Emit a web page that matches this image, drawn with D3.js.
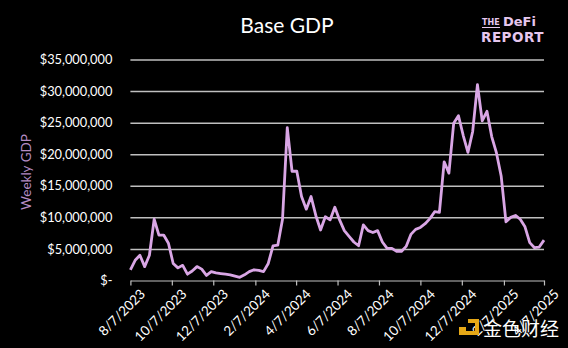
<!DOCTYPE html>
<meta charset="utf-8">
<style>
  html, body { margin: 0; padding: 0; background: #000; overflow: hidden; }
  body { font-family: Lato, "Open Sans", sans-serif; }
  .axis text { fill: #fff; font: normal 12px Lato, sans-serif; }
  .axis path, .axis line { stroke: #bfbfbf; stroke-width: 1.2px; fill: none; }
  .grid line { stroke: #bfbfbf; stroke-width: 1.5px; }
  .grid path { display: none; }
</style>
<svg width="568" height="348"></svg>
<script src="https://cdn.jsdelivr.net/npm/d3@7"></script>
<script>

// weekly data, starting 8/7/2023
var startDate = "2023-08-07";
var weeklyGdpMillions = [
  1.7, 3.2, 4.0, 2.2, 4.0, 9.7, 7.2, 7.2, 5.9, 2.7,
  2.0, 2.4, 1.0, 1.5, 2.2, 1.8, 0.8, 1.4, 1.2, 1.1,
  1.0, 0.9, 0.7, 0.5, 0.9, 1.4, 1.7, 1.6, 1.4, 2.7,
  5.5, 5.6, 9.7, 24.2, 17.3, 17.3, 13.3, 11.3, 13.3, 10.3,
  8.0, 10.1, 9.6, 11.6, 9.6, 7.9, 7.0, 6.1, 5.5, 8.8,
  7.9, 7.6, 7.9, 6.1, 5.1, 5.1, 4.6, 4.6, 5.4, 7.3,
  8.1, 8.4, 9.0, 9.8, 10.9, 10.8, 18.8, 17.0, 24.9, 26.1,
  23.0, 20.3, 23.6, 31.0, 25.3, 26.8, 22.8, 20.2, 16.5, 9.3,
  10.0, 10.3, 9.7, 8.5, 6.0, 5.2, 5.3, 6.4
];
var yTicks = [0, 5e6, 10e6, 15e6, 20e6, 25e6, 30e6, 35e6];
var xTickLabels = ["8/7/2023", "10/7/2023", "12/7/2023", "2/7/2024", "4/7/2024", "6/7/2024",
                   "8/7/2024", "10/7/2024", "12/7/2024", "2/7/2025", "4/7/2025"];

var margin = {top: 59.5, right: 24, bottom: 67.5, left: 130.4},
    width = 568 - margin.left - margin.right,
    height = 348 - margin.top - margin.bottom;

var parse = d3.timeParse("%m/%d/%Y");
var t0 = d3.timeParse("%Y-%m-%d")(startDate);
var data = weeklyGdpMillions.map(function(v, i) {
  return {date: d3.timeDay.offset(t0, i * 7), value: v * 1e6};
});

var svg = d3.select("svg");
var g = svg.append("g")
    .attr("transform", "translate(" + margin.left + "," + margin.top + ")");

var x = d3.scaleTime()
    .domain(d3.extent(data, function(d) { return d.date; }))
    .range([0, width]);
var y = d3.scaleLinear().domain([0, 35e6]).range([height, 0]);

// gridlines
g.append("g")
    .attr("class", "grid")
    .call(d3.axisLeft(y).tickValues(yTicks.slice(1)).tickSize(-width).tickFormat(""));

// y labels
g.append("g")
    .attr("class", "axis axis--y")
    .call(d3.axisLeft(y).tickValues(yTicks).tickSize(0).tickPadding(18)
      .tickFormat(function(d) { return d === 0 ? "$-" : "$" + d3.format(",")(d); }))
    .call(function(a) { a.select(".domain").remove(); })
    .selectAll("text").style("font-size", "12.8px");

// x axis
var xTicks = xTickLabels.map(parse);
var xAxis = g.append("g")
    .attr("class", "axis axis--x")
    .attr("transform", "translate(0," + height + ")")
    .call(d3.axisBottom(x).tickValues(xTicks).tickSizeOuter(0).tickSizeInner(5)
      .tickFormat(function(d, i) { return xTickLabels[i]; }));
xAxis.selectAll("text")
    .attr("text-anchor", "end")
    .attr("dx", "0.3em")
    .attr("dy", "0.7em")
    .attr("transform", "translate(0,5) rotate(-45)")
    .style("font-size", "13.5px");

// line
var line = d3.line()
    .x(function(d) { return x(d.date); })
    .y(function(d) { return y(d.value); });

g.append("path")
    .datum(data)
    .attr("fill", "none")
    .attr("stroke", "#d9a6e5")
    .attr("stroke-width", 2.8)
    .attr("stroke-linejoin", "round")
    .attr("d", line);

// title
svg.append("text")
    .attr("x", 287)
    .attr("y", 33)
    .attr("text-anchor", "middle")
    .style("fill", "#fff")
    .style("font", "normal 21px Lato, sans-serif")
    .text("Base GDP");

// y axis title
svg.append("text")
    .attr("transform", "translate(31,172) rotate(-90)")
    .attr("text-anchor", "middle")
    .style("fill", "#b58cc4")
    .style("font", "normal 13.5px Lato, sans-serif")
    .text("Weekly GDP");

// logo
var logo = svg.append("g").attr("transform", "translate(481,0)");
logo.append("text").attr("x", 1).attr("y", 25)
    .style("fill", "#e6c7ee").style("font", "bold 8px 'DejaVu Sans', sans-serif").text("THE");
logo.append("line").attr("x1", 1).attr("x2", 19).attr("y1", 27.5).attr("y2", 27.5)
    .attr("stroke", "#e6c7ee").attr("stroke-width", 1);
logo.append("text").attr("x", 22).attr("y", 26)
    .style("fill", "#e6c7ee").style("font", "bold 13px 'DejaVu Sans', sans-serif").text("DeFi");
logo.append("text").attr("x", 0).attr("y", 42)
    .style("fill", "#e6c7ee").style("font", "bold 13.5px 'DejaVu Sans', sans-serif")
    .style("letter-spacing", "0.5px").text("REPORT");

// watermark
var wm = svg.append("g").attr("transform", "translate(459,317)");
wm.append("rect").attr("x", 0).attr("y", 10).attr("width", 7).attr("height", 8).attr("fill", "#e6a817");
wm.append("path").attr("d", "M9,2 h11 v16 h-15 v-4 h11 v-8 h-7 z").attr("fill", "#e6a817");
wm.append("text").attr("x", 24).attr("y", 19)
    .style("fill", "#fff").style("font", "normal 19px 'Noto Sans CJK SC', sans-serif").text("金色财经");

</script>
